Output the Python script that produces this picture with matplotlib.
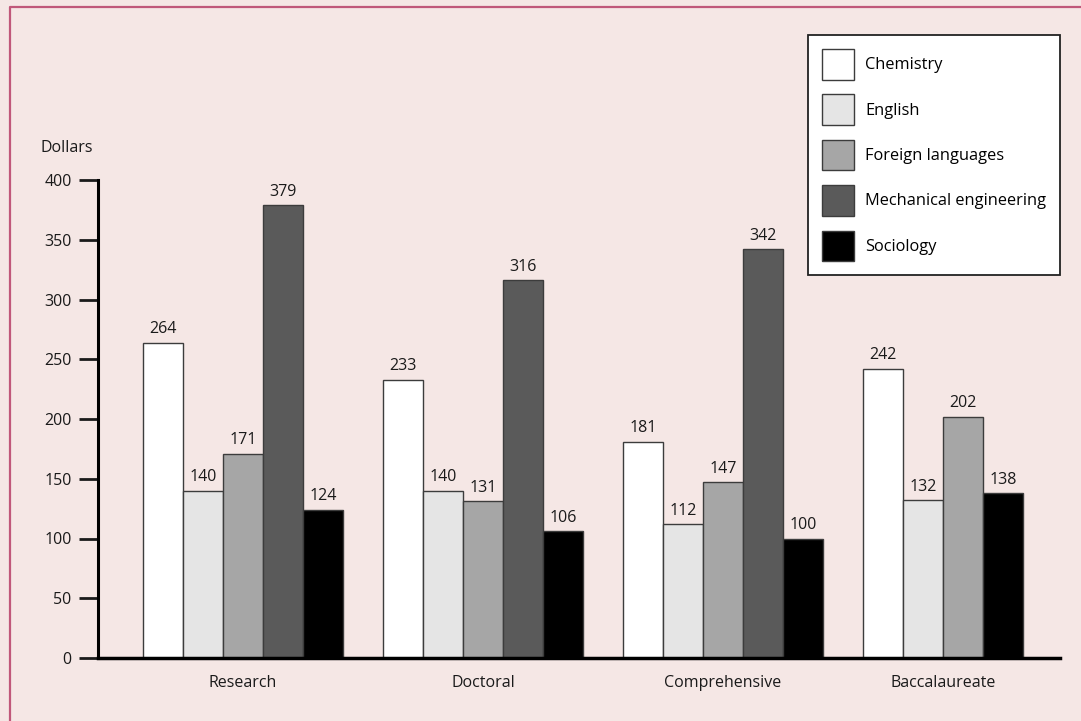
import matplotlib
matplotlib.use("Agg")
import matplotlib.pyplot as plt
from matplotlib.lines import Line2D

plt.rcParams['font.family'] = ['Open Sans', 'DejaVu Sans']

# Carnegie class groups and fields
groups = ['Research', 'Doctoral', 'Comprehensive', 'Baccalaureate']
fields = ['Chemistry', 'English', 'Foreign languages',
          'Mechanical engineering', 'Sociology']
colors = ['#ffffff', '#e5e5e5', '#a6a6a6', '#5a5a5a', '#000000']

# dollars per field within each group (None = no data)
chemistry = [264, 233, 181, 242]
english = [140, 140, 112, 132]
foreign_lang = [171, 131, 147, 202]
mech_eng = [379, 316, 342, None]
sociology = [124, 106, 100, 138]
series = [chemistry, english, foreign_lang, mech_eng, sociology]

bg = '#f5e7e5'
fig = plt.figure(figsize=(10.81, 7.21), dpi=100, facecolor=bg)
ax = fig.add_axes([98 / 1081, 1 - 658 / 721, 962 / 1081, 478 / 721])
ax.set_facecolor(bg)

group_start = 1.125
group_step = 6
label_x = []
for g in range(len(groups)):
    slot = 0
    for f in range(len(fields)):
        v = series[f][g]
        if v is None:
            continue
        x = group_start + group_step * g + slot
        ax.bar(x, v, width=1.0, align='edge', color=colors[f],
               edgecolor='#3c3c3c', linewidth=1.0, zorder=2,
               label=fields[f] if g == 0 else None)
        ax.annotate(str(v), (x + 0.5, v), xytext=(0, 4),
                    textcoords='offset points', ha='center', va='bottom',
                    fontsize=11.5, color='#1a1a1a')
        slot += 1
    label_x.append(group_start + group_step * g + slot / 2)

ax.set_xlim(0, 962 / 40)
ax.set_ylim(0, 400)
ax.set_yticks(range(0, 401, 50))
ax.set_xticks(label_x)
ax.set_xticklabels(groups)
ax.tick_params(axis='y', length=14, width=2, pad=5, labelsize=11.5,
               colors='#1a1a1a')
ax.tick_params(axis='x', length=0, pad=12, labelsize=11.5, colors='#1a1a1a')
for s in ['top', 'right']:
    ax.spines[s].set_visible(False)
ax.spines['left'].set_linewidth(2.2)
ax.spines['bottom'].set_linewidth(2.5)
ax.spines['bottom'].set_zorder(3)

fig.text(40 / 1081, 1 - 148 / 721, 'Dollars', fontsize=11.5,
         va='center', ha='left', color='#1a1a1a')

leg = fig.legend(loc='upper right', bbox_to_anchor=(1060 / 1081, 1 - 35 / 721),
                 fontsize=11.8, frameon=True, fancybox=False,
                 handlelength=1.95, handleheight=2.5, labelspacing=0.9,
                 handletextpad=0.65, borderpad=0.85, borderaxespad=0)
leg.get_frame().set_edgecolor('#222222')
leg.get_frame().set_linewidth(1.3)
leg.get_frame().set_facecolor('white')
leg.get_frame().set_alpha(1)

# page border along top and left
border = '#c0587a'
fig.add_artist(Line2D([9.5 / 1081, 9.5 / 1081, 1], [0, 1 - 6.5 / 721, 1 - 6.5 / 721],
                      transform=fig.transFigure, color=border, linewidth=1.6))

fig.savefig('out.png', dpi=100, facecolor=bg)
